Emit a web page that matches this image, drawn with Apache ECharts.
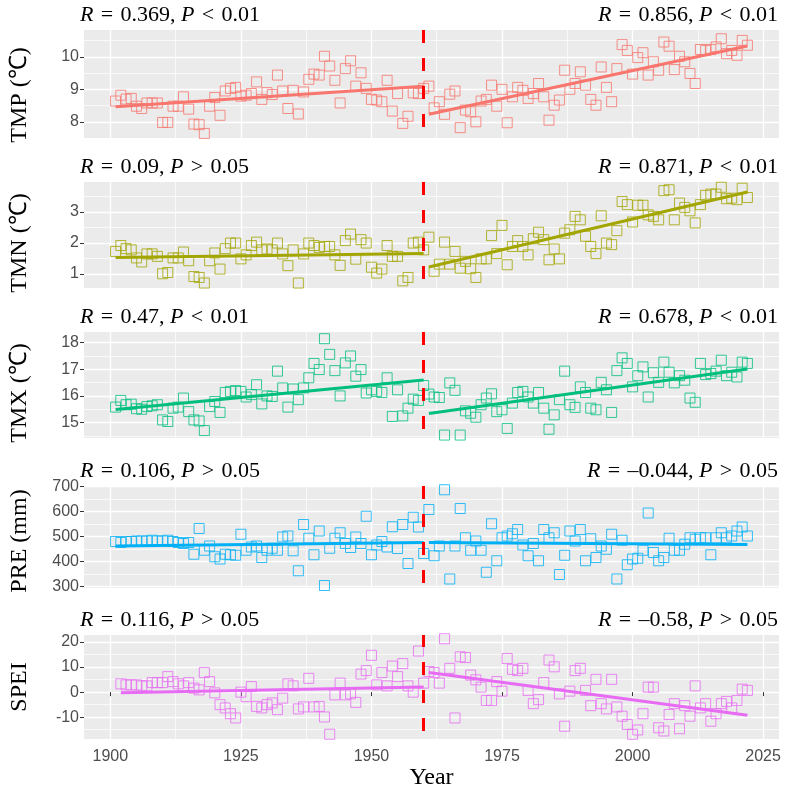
<!DOCTYPE html>
<html>
<head>
<meta charset="utf-8">
<script src="https://cdn.jsdelivr.net/npm/echarts@6/dist/echarts.min.js"></script>
<style>
  html, body { margin: 0; padding: 0; background: #fff; }
  #main { width: 792px; height: 791px; }
</style>
</head>
<body>
<div id="main"></div>
<script>
'use strict';

// 年份: 前段 1901-1960, 后段 1961-2022 (SPEI 从 1902 开始)
var yearsA = [], yearsB = [], yearsSpeiA = [];
for (var y = 1901; y <= 1960; y++) yearsA.push(y);
for (var y2 = 1961; y2 <= 2022; y2++) yearsB.push(y2);
for (var y3 = 1902; y3 <= 1960; y3++) yearsSpeiA.push(y3);

var tmpA = [8.64, 8.82, 8.70, 8.72, 8.48, 8.41, 8.58, 8.58, 8.58, 7.98,
  7.98, 8.48, 8.48, 8.77, 8.39, 7.93, 7.91, 7.64, 8.48, 8.75,
  8.20, 8.95, 9.03, 9.06, 8.79, 8.82, 8.87, 9.23, 8.69, 8.90,
  8.84, 9.44, 8.95, 8.41, 8.97, 8.24, 8.92, 9.31, 9.47, 9.44,
  10.02, 9.72, 9.28, 8.58, 9.64, 9.88, 9.10, 9.51, 9.03, 8.69,
  8.67, 8.62, 9.28, 8.33, 8.87, 7.95, 8.17, 8.89, 8.87, 9.03];
var tmpB = [9.10, 8.43, 8.62, 8.23, 8.85, 8.95, 7.82, 8.36, 8.31, 8.00,
  8.64, 8.69, 9.13, 8.48, 9.00, 7.97, 8.77, 9.06, 8.97, 8.72,
  8.87, 9.18, 8.77, 8.05, 8.51, 8.67, 9.59, 9.00, 9.18, 9.54,
  9.13, 8.69, 8.51, 9.69, 9.06, 8.62, 9.64, 10.38, 10.20, 9.47,
  9.98, 10.13, 9.44, 9.85, 9.59, 10.46, 10.33, 9.61, 10.02, 9.85,
  9.49, 9.18, 10.23, 10.20, 10.23, 10.31, 10.56, 10.10, 10.20, 10.05,
  10.51, 10.36];

var tmnA = [1.73, 1.92, 1.82, 1.78, 1.52, 1.39, 1.65, 1.65, 1.57, 1.01,
  1.05, 1.52, 1.52, 1.71, 1.43, 0.92, 0.89, 0.71, 1.43, 1.68,
  1.16, 1.82, 2.00, 2.00, 1.49, 1.62, 1.92, 2.03, 1.78, 1.81,
  1.78, 2.00, 1.65, 1.27, 1.78, 0.71, 1.65, 2.00, 1.92, 1.86,
  1.89, 1.89, 1.62, 1.28, 2.08, 2.29, 1.48, 2.11, 2.00, 1.22,
  1.03, 1.16, 1.92, 1.57, 1.57, 0.78, 0.89, 2.00, 2.03, 1.78];
var tmnB = [2.19, 1.09, 1.32, 2.03, 1.32, 1.73, 1.19, 1.41, 1.17, 0.89,
  1.49, 1.49, 2.24, 1.66, 2.57, 1.30, 1.89, 2.08, 1.89, 1.62,
  2.14, 2.35, 2.11, 1.46, 1.81, 1.49, 2.32, 2.43, 2.86, 2.75,
  2.22, 1.89, 1.66, 2.88, 2.00, 1.95, 2.40, 3.34, 3.24, 2.68,
  3.22, 3.22, 2.91, 2.86, 2.75, 3.69, 3.72, 2.75, 3.29, 3.15,
  3.04, 2.65, 3.24, 3.54, 3.58, 3.58, 3.80, 3.43, 3.45, 3.40,
  3.77, 3.47];

var tmxA = [15.58, 15.83, 15.67, 15.69, 15.52, 15.50, 15.60, 15.63, 15.67, 15.10,
  15.04, 15.54, 15.58, 15.92, 15.41, 15.10, 15.06, 14.70, 15.60, 15.79,
  15.38, 16.13, 16.17, 16.20, 16.17, 15.96, 16.05, 16.42, 15.70, 16.00,
  15.98, 16.93, 16.30, 15.58, 16.26, 15.86, 16.30, 16.68, 17.22, 16.99,
  18.15, 17.56, 16.95, 16.00, 17.24, 17.50, 16.74, 16.99, 16.11, 16.23,
  16.17, 16.13, 16.68, 15.23, 16.23, 15.25, 15.54, 15.88, 15.83, 16.39];
var tmxB = [16.07, 15.96, 15.94, 14.53, 16.49, 16.21, 14.53, 15.44, 15.35, 15.20,
  15.67, 15.92, 16.08, 15.41, 15.48, 14.78, 15.73, 16.13, 16.17, 15.96,
  15.73, 16.13, 15.54, 14.75, 15.29, 15.86, 16.93, 15.67, 15.57, 16.34,
  16.13, 15.54, 15.48, 16.51, 16.23, 15.38, 16.95, 17.43, 17.22, 16.34,
  16.76, 17.09, 15.96, 16.87, 16.51, 17.27, 16.89, 16.49, 16.76, 16.59,
  15.92, 15.76, 17.22, 16.80, 16.84, 16.93, 17.34, 16.76, 16.89, 16.71,
  17.27, 17.22];

var preA = [480, 476, 480, 480, 482, 482, 482, 485, 482, 482,
  485, 480, 476, 472, 476, 429, 532, 445, 462, 419,
  410, 429, 427, 425, 509, 445, 458, 462, 416, 445,
  453, 445, 498, 502, 443, 363, 548, 493, 427, 522,
  304, 453, 493, 515, 472, 456, 498, 472, 581, 427,
  466, 480, 458, 539, 452, 548, 392, 577, 538, 432];
var preB = [608, 423, 462, 687, 330, 462, 612, 495, 445, 482,
  445, 357, 551, 403, 495, 502, 511, 528, 466, 423,
  472, 403, 528, 495, 515, 348, 425, 522, 482, 528,
  403, 491, 416, 462, 449, 509, 330, 485, 387, 410,
  413, 445, 594, 436, 403, 416, 493, 445, 445, 469,
  495, 489, 495, 495, 427, 495, 515, 495, 502, 522,
  538, 502];

var speiA = [3.3, 2.9, 2.9, 2.9, 2.5, 2.5, 3.8, 3.8, 3.8,
  6.2, 4.2, 3.3, 2.5, 3.8, 1.6, 0.9, 7.8, 4.2, -0.3,
  -5.0, -6.3, -8.6, -10.3, 0.0, -1.8, 2.2, -5.7, -6.3, -5.0,
  -4.3, -7.0, -2.4, 3.3, 2.5, -6.7, -5.9, 5.5, -5.9, -5.7,
  -9.9, -16.8, -1.1, 3.6, -1.1, -0.7, -4.1, 7.2, 8.6, 14.7,
  2.9, 7.8, 2.5, 10.4, 6.2, 11.4, 2.5, 0.0, 16.4, 3.6];
var speiB = [8.2, 7.8, 3.6, 21.3, 9.5, -10.3, 14.1, 13.8, 6.8, 4.9,
  2.0, -3.3, -3.3, 4.2, 0.4, 13.4, 9.1, 8.6, 9.5, 0.7,
  -4.6, -3.0, 3.8, 12.8, 10.1, -0.7, -13.6, 0.4, 8.6, 9.5,
  0.7, -5.4, 5.1, -4.6, -6.7, 5.1, -5.9, -9.6, -12.9, -16.8,
  -15.1, -8.6, 2.0, 2.0, -14.2, -15.5, -8.9, -4.6, -14.6, -5.4,
  -9.6, 2.5, -6.3, -4.6, -11.6, -8.6, -4.6, -3.7, -6.3, -3.3,
  1.2, 0.7];

// 坐标轴刻度
var xMajor = [1900, 1925, 1950, 1975, 2000, 2025];
var xMinor = [1912.5, 1937.5, 1962.5, 1987.5, 2012.5];
var yMajor = [[8, 9, 10], [1, 2, 3], [15, 16, 17, 18], [300, 400, 500, 600, 700], [-10, 0, 10, 20]];
var yMinor = [[8.5, 9.5, 10.5], [1.5, 2.5, 3.5], [14.5, 15.5, 16.5, 17.5], [350, 450, 550, 650], [-15, -5, 5, 15]];
var yRange = [[7.5, 10.83], [0.55, 3.97], [14.42, 18.4], [294, 702], [-18.7, 22.8]];

var names = ['TMP (℃)', 'TMN (℃)', 'TMX (℃)', 'PRE (mm)', 'SPEI'];
var rLeft = ['0.369', '0.09', '0.47', '0.106', '0.116'];
var pLeft = ['<', '>', '<', '>', '>'];
var rRight = ['0.856', '0.871', '0.678', '–0.044', '–0.58'];
var pRight = ['<', '<', '<', '>', '>'];
var pValue = ['0.01', '0.05', '0.01', '0.05', '0.05'];
var pValueRight = ['0.01', '0.01', '0.01', '0.05', '0.05'];
var breakYear = 1960;

var colors = ['#F8766D', '#A3A500', '#00BF7D', '#00B0F6', '#E76BF3'];
var gridTops = [30, 182, 332, 486, 635];
var gridHeights = [108, 106, 106, 102, 105];
// y 轴标题的下移量 (原图标题略偏下)
var nameShift = [22, 16, 16, 8, 0];

var dataSets = [
  [yearsA, tmpA, yearsB, tmpB],
  [yearsA, tmnA, yearsB, tmnB],
  [yearsA, tmxA, yearsB, tmxB],
  [yearsA, preA, yearsB, preB],
  [yearsSpeiA, speiA, yearsB, speiB]
];

// 线性回归 (lm)
function fitLine(xs, ys) {
  var n = xs.length, mx = 0, my = 0, sxy = 0, sxx = 0;
  for (var i = 0; i < n; i++) { mx += xs[i]; my += ys[i]; }
  mx /= n; my /= n;
  for (var j = 0; j < n; j++) {
    sxy += (xs[j] - mx) * (ys[j] - my);
    sxx += (xs[j] - mx) * (xs[j] - mx);
  }
  var b = sxy / sxx, a = my - b * mx;
  return [[xs[0], a + b * xs[0]], [xs[n - 1], a + b * xs[n - 1]]];
}

function zip(xs, ys) {
  return xs.map(function (x, i) { return [x, ys[i]]; });
}

var serif = 'Liberation Serif';
var sans = 'Liberation Sans';
var sp = '\u2004';
var statStyle = {
  fontFamily: serif, fontSize: 22, color: '#000', fontWeight: 'normal',
  rich: {
    i: { fontFamily: serif, fontSize: 22, fontStyle: 'italic', color: '#000' },
    n: { fontFamily: serif, fontSize: 22, color: '#000' }
  }
};

function statText(r, op, p) {
  return '{i|R}{n|' + sp + '=' + sp + r + ', }{i|P}{n|' + sp + op + sp + p + '}';
}

var grid = [], xAxis = [], yAxis = [], series = [], title = [];

for (var k = 0; k < 5; k++) {
  var last = k === 4;
  grid.push({
    left: 77, right: 13, top: gridTops[k], height: gridHeights[k],
    show: true, backgroundColor: '#EBEBEB', borderWidth: 0
  });

  // 主刻度 x 轴
  xAxis.push({
    type: 'value', gridIndex: k, min: 1894.95, max: 2028.05,
    name: last ? 'Year' : '', nameLocation: 'middle', nameGap: 27,
    nameTextStyle: { fontFamily: serif, fontSize: 24, color: '#000' },
    axisLine: { show: false },
    axisTick: { show: last, length: 4, lineStyle: { color: '#333' }, customValues: xMajor },
    axisLabel: {
      show: last, customValues: xMajor, color: '#4D4D4D', fontFamily: sans, fontSize: 16, margin: 10,
      formatter: function (v) { return String(v); }
    },
    splitLine: { show: true, lineStyle: { color: '#fff', width: 1.3 } }
  });
  // 次刻度 x 轴 (只画网格线)
  xAxis.push({
    type: 'value', gridIndex: k, min: 1894.95, max: 2028.05, position: 'top',
    axisLine: { show: false },
    axisTick: { show: false, customValues: xMinor },
    axisLabel: { show: false },
    splitLine: { show: true, lineStyle: { color: '#fff', width: 0.7 } }
  });

  yAxis.push({
    type: 'value', gridIndex: k, min: yRange[k][0], max: yRange[k][1],
    name: names[k], nameLocation: 'middle', nameGap: 52, nameRotate: 90,
    nameTextStyle: {
      fontFamily: serif, fontSize: 24, color: '#000',
      padding: [0, nameShift[k], 0, 0]
    },
    axisLine: { show: false },
    axisTick: { show: true, length: 4, lineStyle: { color: '#333' }, customValues: yMajor[k] },
    axisLabel: { customValues: yMajor[k], color: '#4D4D4D', fontFamily: sans, fontSize: 16, margin: 5 },
    splitLine: { show: true, lineStyle: { color: '#fff', width: 1.3 } }
  });
  yAxis.push({
    type: 'value', gridIndex: k, min: yRange[k][0], max: yRange[k][1], position: 'right',
    axisLine: { show: false },
    axisTick: { show: false, customValues: yMinor[k] },
    axisLabel: { show: false },
    splitLine: { show: true, lineStyle: { color: '#fff', width: 0.7 } }
  });

  var ds = dataSets[k];
  series.push({
    type: 'scatter', xAxisIndex: 2 * k, yAxisIndex: 2 * k,
    data: zip(ds[0], ds[1]).concat(zip(ds[2], ds[3])),
    symbol: 'rect', symbolSize: 10, z: 2,
    itemStyle: { color: 'rgba(0,0,0,0)', borderColor: colors[k], borderWidth: 1 },
    silent: true
  });
  series.push({
    type: 'line', xAxisIndex: 2 * k, yAxisIndex: 2 * k,
    data: fitLine(ds[0], ds[1]), showSymbol: false, symbol: 'none', z: 3,
    lineStyle: { color: colors[k], width: 3 }, silent: true
  });
  // 红色虚线从面板底部开始计相位
  var dashOffset = ((13 - gridHeights[k]) % 28 + 28) % 28;
  series.push({
    type: 'line', xAxisIndex: 2 * k, yAxisIndex: 2 * k,
    data: fitLine(ds[2], ds[3]), showSymbol: false, symbol: 'none', z: 3,
    lineStyle: { color: colors[k], width: 3 }, silent: true,
    markLine: {
      silent: true, symbol: 'none', label: { show: false },
      lineStyle: { color: '#FF0000', width: 3, type: [13, 15], dashOffset: dashOffset, opacity: 1 },
      emphasis: { disabled: true },
      data: [{ xAxis: breakYear }]
    }
  });

  // R, P 标注
  title.push({
    text: statText(rLeft[k], pLeft[k], pValue[k]),
    left: 80, top: gridTops[k] - 26, padding: 0, textStyle: statStyle
  });
  title.push({
    text: statText(rRight[k], pRight[k], pValueRight[k]),
    right: 14, top: gridTops[k] - 26, padding: 0, textStyle: statStyle
  });
}

var chart = echarts.init(document.getElementById('main'));
chart.setOption({
  animation: false,
  backgroundColor: '#fff',
  title: title,
  grid: grid,
  xAxis: xAxis,
  yAxis: yAxis,
  series: series
});
</script>
</body>
</html>
